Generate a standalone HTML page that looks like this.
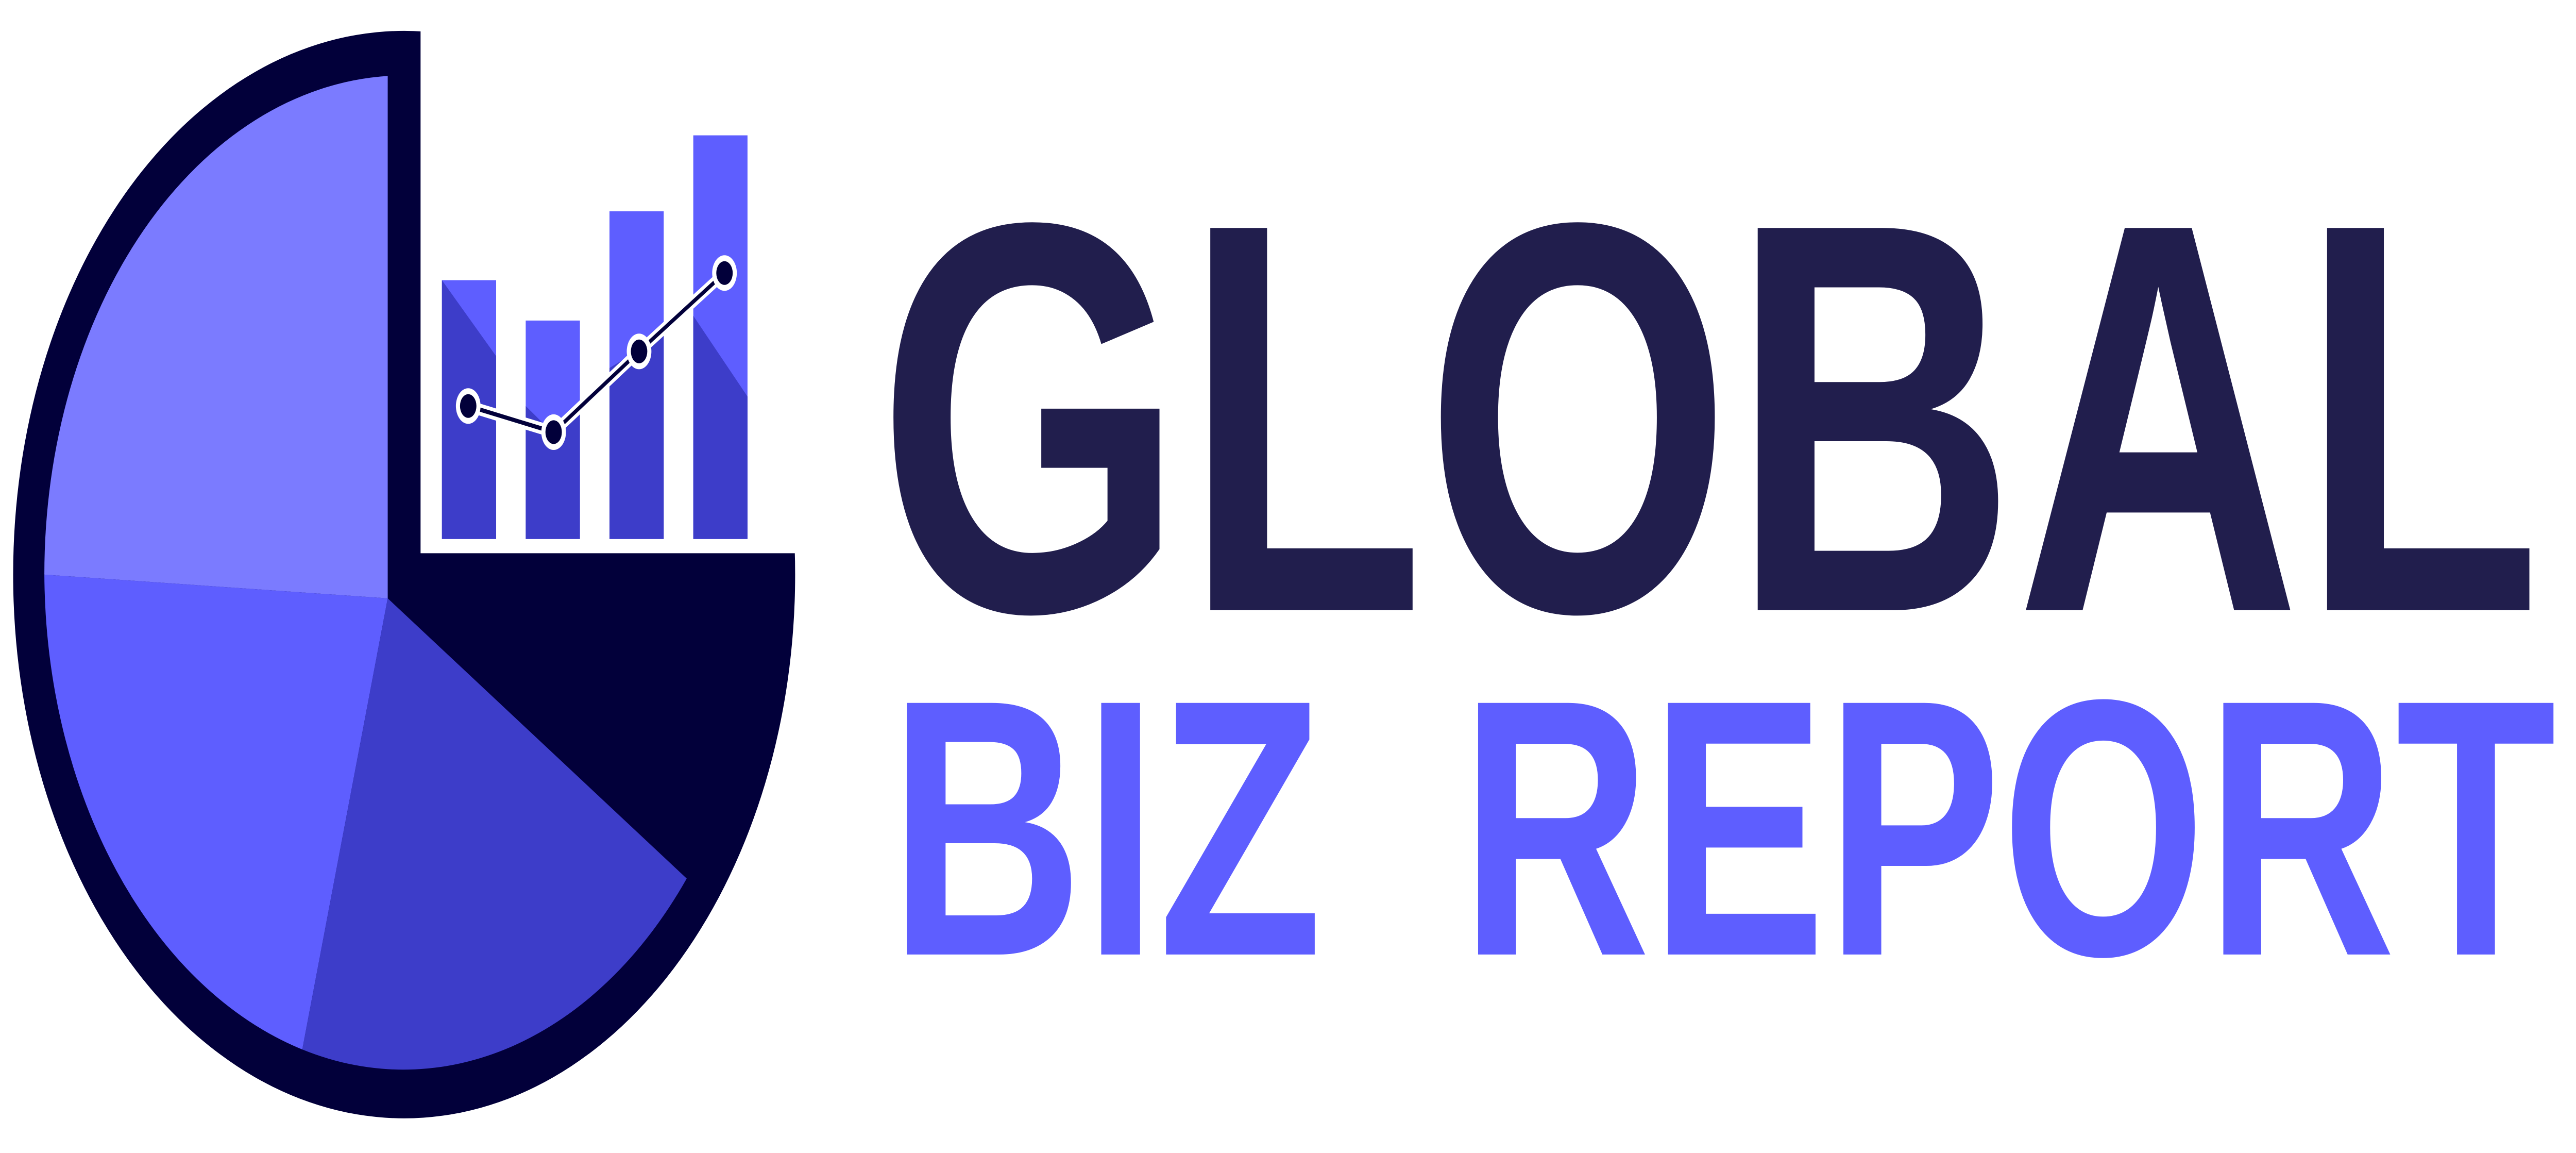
<!DOCTYPE html>
<html><head><meta charset="utf-8"><style>
html,body{margin:0;padding:0;background:#fff;overflow:hidden;width:100%;height:100%;}
svg{display:block;width:100vw;height:100vh;}
</style></head><body>
<svg id="logo" viewBox="0 0 1568 485.6" preserveAspectRatio="none" xmlns="http://www.w3.org/2000/svg">
<g>
  <ellipse cx="246" cy="242" rx="238" ry="229" fill="#02003a"/>
  <rect x="256" y="0" width="240" height="233" fill="#fff"/>
  <path d="M236,252 L236,32 A219,210 0 0 0 27,242 Z" fill="#7b7bff"/>
  <path d="M236,252 L27,242 A219,210 0 0 0 184,442 Z" fill="#5e5eff"/>
  <path d="M236,252 L184,442 A219,210 0 0 0 418,370 Z" fill="#3d3dc9"/>
</g>
<g id="bars"></g>
<g font-family="'Liberation Sans', sans-serif" font-weight="bold">
  <text x="534" y="257" font-size="234" fill="#211e4d" textLength="1013" lengthAdjust="spacingAndGlyphs">GLOBAL</text>
  <text x="541" y="402" font-size="154" fill="#5e5eff" textLength="264" lengthAdjust="spacingAndGlyphs">BIZ</text>
  <text x="889" y="402" font-size="154" fill="#5e5eff" textLength="667" lengthAdjust="spacingAndGlyphs">REPORT</text>
</g>
</svg>
<script>
const barTops = [118, 135, 89, 57];
const lineValues = [171, 182, 148, 115];
const barLeft = [269, 320, 371, 422];
const NS = "http://www.w3.org/2000/svg";
const g = document.getElementById('bars');
const W = 33, BOTTOM = 227;
const darkTops = [[118,150],[171,174],[155,141],[133,167]];
for (let i = 0; i < barTops.length; i++) {
  const x = barLeft[i];
  const r = document.createElementNS(NS, 'rect');
  r.setAttribute('x', x); r.setAttribute('y', barTops[i]);
  r.setAttribute('width', W); r.setAttribute('height', BOTTOM - barTops[i]);
  r.setAttribute('fill', '#5e5eff');
  
  
  g.appendChild(r);
  const d = darkTops[i];
  const p = document.createElementNS(NS, 'polygon');
  let pts;
  if (i === 1) pts = `${x},${d[0]} ${x+16},${lineValues[1]} ${x+W},${d[1]} ${x+W},${BOTTOM} ${x},${BOTTOM}`;
  else pts = `${x},${Math.max(d[0],barTops[i])} ${x+W},${d[1]} ${x+W},${BOTTOM} ${x},${BOTTOM}`;
  p.setAttribute('points', pts);
  p.setAttribute('fill', '#3d3dc9');
  
  
  g.appendChild(p);
}
const xs = [285, 337, 389, 441];
const ptsStr = xs.map((x,i)=>x+','+lineValues[i]).join(' ');
const lw = document.createElementNS(NS, 'polyline');
lw.setAttribute('points', ptsStr); lw.setAttribute('fill','none');
lw.setAttribute('stroke','#fff'); lw.setAttribute('stroke-width','5');


g.appendChild(lw);
const ld = document.createElementNS(NS, 'polyline');
ld.setAttribute('points', ptsStr); ld.setAttribute('fill','none');
ld.setAttribute('stroke','#02003a'); ld.setAttribute('stroke-width','1.8');


g.appendChild(ld);
xs.forEach((x,i)=>{
  const c1 = document.createElementNS(NS,'circle');
  c1.setAttribute('cx',x); c1.setAttribute('cy',lineValues[i]); c1.setAttribute('r','7.5'); c1.setAttribute('fill','#fff');
  
  
  g.appendChild(c1);
  const c2 = document.createElementNS(NS,'circle');
  c2.setAttribute('cx',x); c2.setAttribute('cy',lineValues[i]); c2.setAttribute('r','5'); c2.setAttribute('fill','#02003a');
  
  
  g.appendChild(c2);
});
</script>
</body></html>
